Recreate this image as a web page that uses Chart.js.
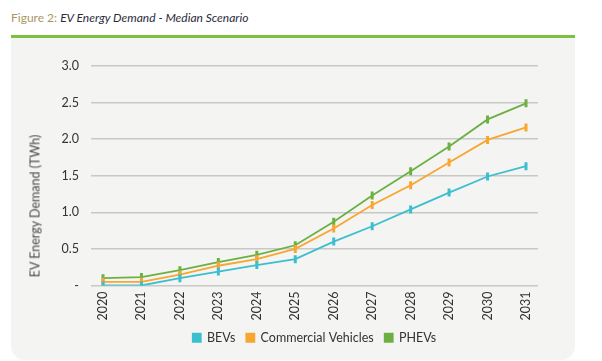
<!DOCTYPE html>
<html>
<head>
<meta charset="utf-8">
<script src="https://cdn.jsdelivr.net/npm/chart.js@4"></script>
<style>
  html, body { margin: 0; padding: 0; background: #ffffff; }
  body { width: 602px; height: 361px; position: relative; overflow: hidden; font-family: Lato, "Noto Sans", sans-serif; }
  #title { position: absolute; left: 11px; top: 10px; font-size: 12px; white-space: nowrap; }
  #title .fig { color: #a99661; }
  #title .txt { color: #2b2b3b; font-style: italic; }
  #bar { position: absolute; left: 11px; top: 35px; width: 564px; height: 3px; background: #7cc142; }
  #panel { position: absolute; left: 11px; top: 38px; width: 564px; height: 322px; background: #f4f4f3; border-radius: 0 0 14px 14px; }
  #wrap { position: absolute; left: 11px; top: 38px; width: 564px; height: 322px; }
  #ytitle { position: absolute; left: 35px; top: 206px; transform: translate(-50%, -50%) rotate(-90deg); font-size: 12.5px; font-weight: 400; color: #4a4a4a; white-space: nowrap; }
</style>
</head>
<body>
<div id="title"><span class="fig">Figure 2:</span> <span class="txt">EV Energy Demand - Median Scenario</span></div>
<div id="bar"></div>
<div id="panel"></div>
<div id="wrap"><canvas id="c" width="564" height="322"></canvas></div>
<div id="ytitle">EV Energy Demand (TWh)</div>
<script>
const years = ["2020","2021","2022","2023","2024","2025","2026","2027","2028","2029","2030","2031"];
const bevs = [0.00, 0.00, 0.10, 0.19, 0.28, 0.36, 0.60, 0.81, 1.04, 1.27, 1.49, 1.63];
const commercial = [0.05, 0.05, 0.15, 0.27, 0.36, 0.50, 0.78, 1.10, 1.37, 1.68, 1.99, 2.16];
const phevs = [0.10, 0.115, 0.21, 0.32, 0.42, 0.55, 0.87, 1.23, 1.56, 1.90, 2.27, 2.49];
const yTicks = [0, 0.5, 1.0, 1.5, 2.0, 2.5, 3.0];

function pts(arr) { return arr.map((v, i) => ({ x: i, y: v })); }
function ds(label, arr, color) {
  return {
    label: label, data: pts(arr),
    borderColor: color, backgroundColor: color, borderWidth: 1.8,
    pointStyle: 'line', rotation: 90, pointRadius: 4, pointBorderWidth: 3,
    pointBorderColor: color, pointBackgroundColor: color, tension: 0
  };
}

new Chart(document.getElementById('c'), {
  type: 'line',
  data: {
    datasets: [
      ds('BEVs', bevs, '#3bbfcf'),
      ds('Commercial Vehicles', commercial, '#f8a630'),
      ds('PHEVs', phevs, '#6cb043')
    ]
  },
  options: {
    responsive: false,
    animation: false,
    layout: { padding: { top: 28, right: 37, left: 0, bottom: 6 } },
    plugins: {
      legend: {
        position: 'bottom',
        fullSize: false,
        labels: { boxWidth: 8, boxHeight: 8, padding: 11, color: '#333333', font: { family: 'Lato', size: 12.5 } }
      },
      tooltip: { enabled: false }
    },
    scales: {
      x: {
        type: 'linear', min: -0.312, max: 11.312,
        afterFit: (s) => { s.height = 35; },
        grid: { display: false, drawTicks: false },
        border: { display: false },
        ticks: {
          stepSize: 1, autoSkip: false, includeBounds: false,
          maxRotation: 90, minRotation: 90, padding: 6,
          color: '#333333', font: { family: 'Lato', size: 12.5 },
          callback: (v) => Number.isInteger(v) && years[v] !== undefined ? years[v] : ''
        },
        afterBuildTicks: (s) => { s.ticks = years.map((y, i) => ({ value: i })); }
      },
      y: {
        min: 0, max: 3,
        afterFit: (s) => { s.width = 80; },
        afterBuildTicks: (s) => { s.ticks = yTicks.map(v => ({ value: v })); },
        grid: { color: '#c8c8c8', lineWidth: 1.5, drawTicks: false },
        border: { display: false },
        ticks: {
          padding: 12, color: '#333333', font: { family: 'Lato', size: 12.5 },
          callback: (v) => v === 0 ? '-' : v.toFixed(1)
        }
      }
    }
  }
});
</script>
</body>
</html>
